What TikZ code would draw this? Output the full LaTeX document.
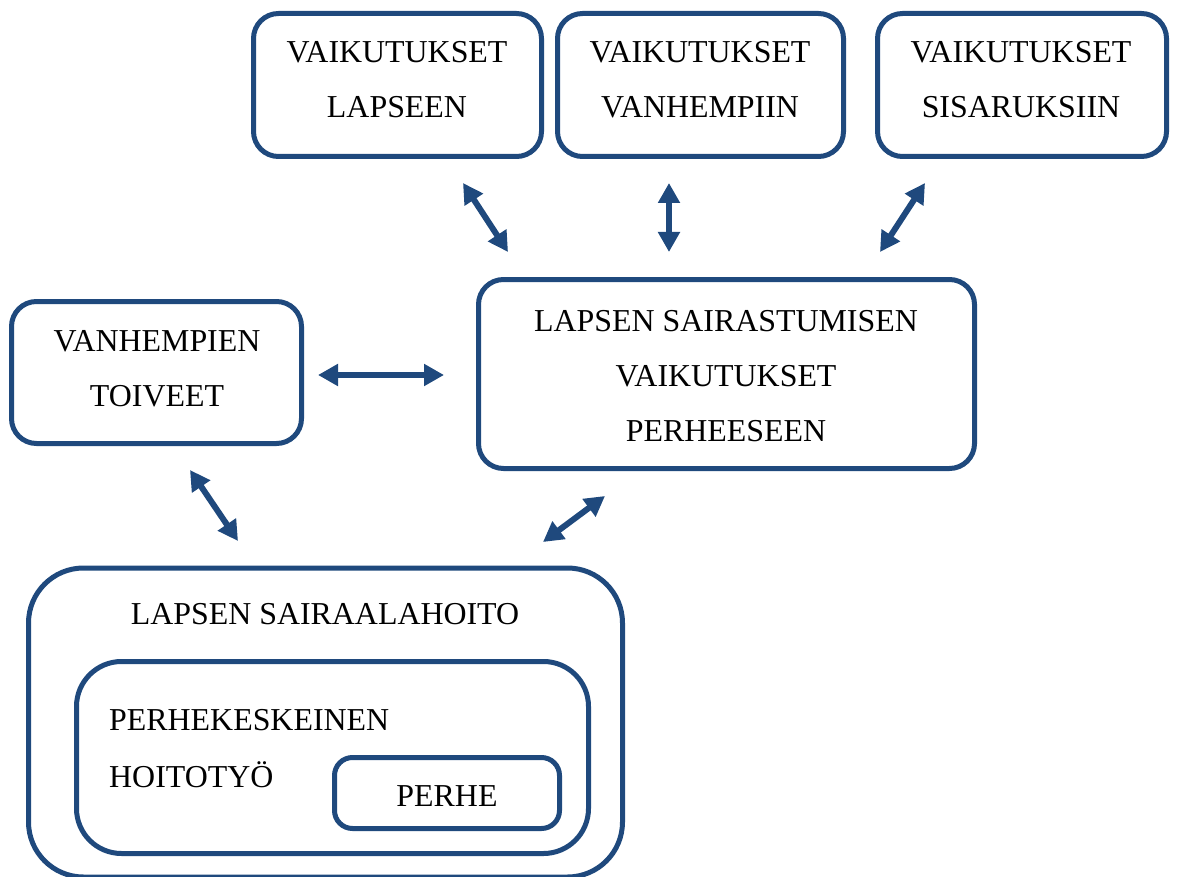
\documentclass[tikz,border=0pt]{standalone}
\usepackage{fontspec}
\setmainfont{Liberation Serif}
\usetikzlibrary{arrows.meta}
\definecolor{bl}{RGB}{31,73,125}
\begin{document}
\begin{tikzpicture}[x=1pt,y=-1pt,
  box/.style={draw=bl,line width=5pt,rounded corners=25pt,inner sep=0pt},
  txt/.style={font=\fontsize{31.9}{38}\selectfont,inner sep=0pt,anchor=base},
  dbl/.style={draw=bl,line width=6pt,{Triangle[length=20pt,width=21pt]}-{Triangle[length=20pt,width=21pt]}}]
\useasboundingbox (0,0) rectangle (1177,877);
% boxes
\node[box,minimum width=288pt,minimum height=143pt] (b1) at (397.5,85) {};
\node[box,minimum width=286pt,minimum height=143pt] (b2) at (700.5,85) {};
\node[box,minimum width=289pt,minimum height=143pt] (b3) at (1022,85) {};
\node[box,minimum width=496pt,minimum height=189pt] (c) at (726.5,374) {};
\node[box,minimum width=290pt,minimum height=142pt] (v) at (156.5,372.5) {};
\node[box,rounded corners=55pt,minimum width=594pt,minimum height=309pt] (o) at (325.5,722.5) {};
\node[box,rounded corners=45pt,minimum width=512pt,minimum height=192pt] (i) at (332.5,757.5) {};
\node[box,rounded corners=18pt,minimum width=225pt,minimum height=71pt] (p) at (447,793) {};
% texts
\node[txt] (t1a) at (397,62.5) {VAIKUTUKSET};
\node[txt] (t1b) at (397,117.5) {LAPSEEN};
\node[txt] (t2a) at (700,62.5) {VAIKUTUKSET};
\node[txt] (t2b) at (700,117.5) {VANHEMPIIN};
\node[txt] (t3a) at (1021,62.5) {VAIKUTUKSET};
\node[txt] (t3b) at (1021,117.5) {SISARUKSIIN};
\node[txt] (c1) at (726,331.5) {LAPSEN SAIRASTUMISEN};
\node[txt] (c2) at (726,386.5) {VAIKUTUKSET};
\node[txt] (c3) at (726,441.5) {PERHEESEEN};
\node[txt] (v1) at (157,351.5) {VANHEMPIEN};
\node[txt] (v2) at (157,406.5) {TOIVEET};
\node[txt] (o1) at (325,624.5) {LAPSEN SAIRAALAHOITO};
\node[txt,anchor=base west] (i1) at (109,730.5) {PERHEKESKEINEN};
\node[txt,anchor=base west] (i2) at (109,787.5) {HOITOTYÖ};
\node[txt] (p1) at (447,806.5) {PERHE};
% arrows
\coordinate (a1s) at (463,183); \coordinate (a1e) at (508,252);
\coordinate (a2s) at (669,183); \coordinate (a2e) at (669,252);
\coordinate (a3s) at (925,183); \coordinate (a3e) at (880,252);
\coordinate (a4s) at (318,375); \coordinate (a4e) at (444,375);
\coordinate (a5s) at (190,470); \coordinate (a5e) at (238,541);
\coordinate (a6s) at (605,496); \coordinate (a6e) at (543,542);
\draw[dbl] (a1s) -- (a1e);
\draw[dbl] (a2s) -- (a2e);
\draw[dbl] (a3s) -- (a3e);
\draw[dbl] (a4s) -- (a4e);
\draw[dbl] (a5s) -- (a5e);
\draw[dbl] (a6s) -- (a6e);
\end{tikzpicture}
\end{document}
